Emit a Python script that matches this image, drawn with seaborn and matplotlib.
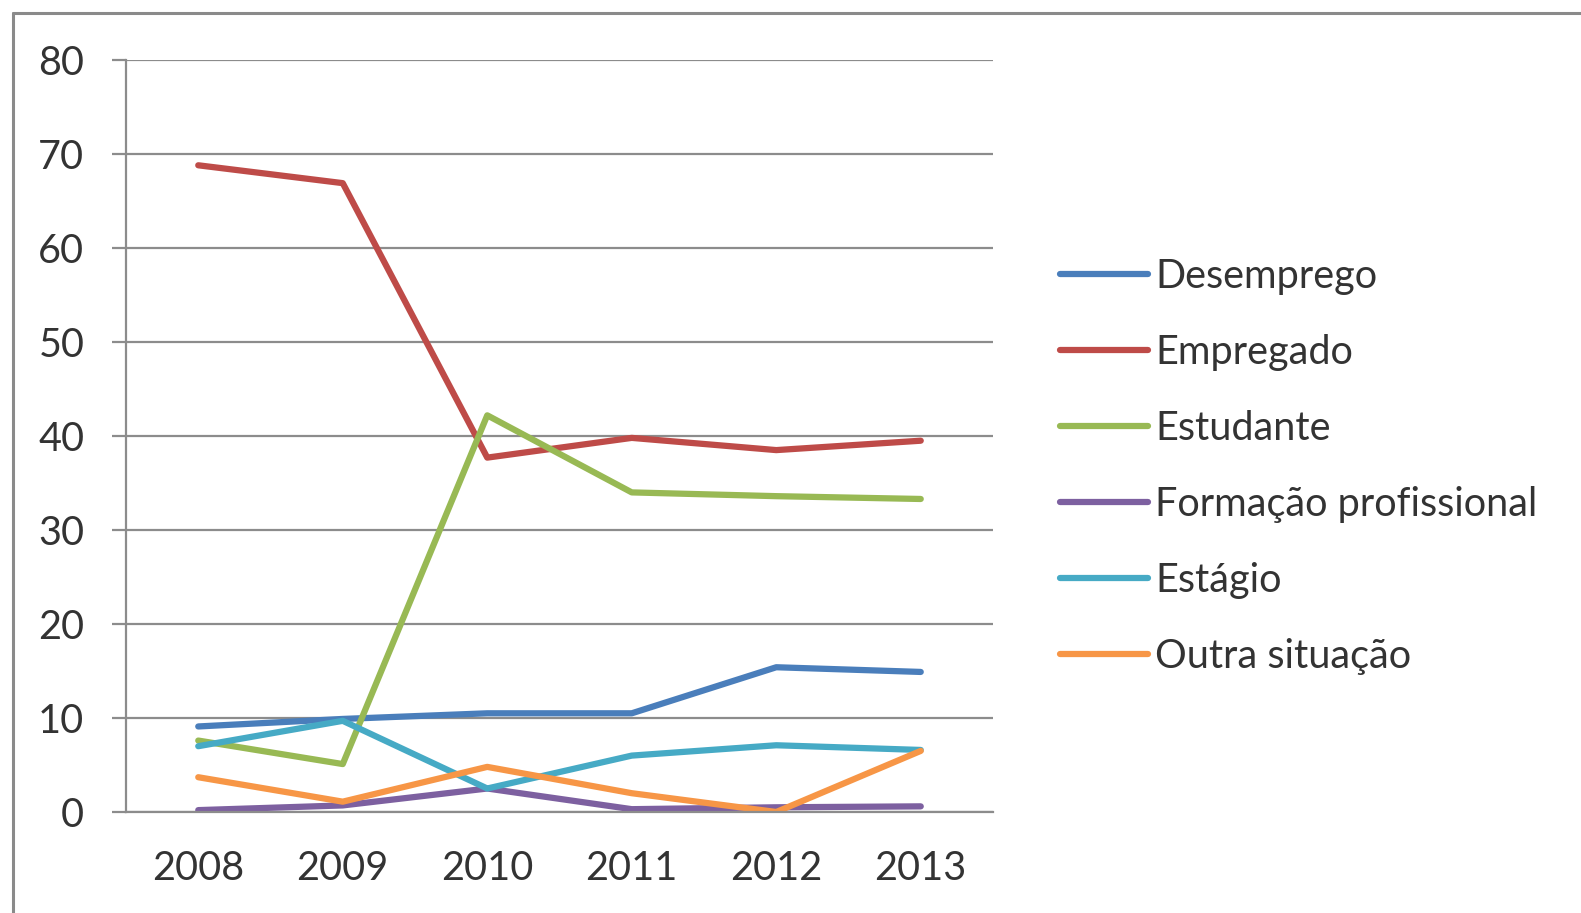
import pandas as pd
import numpy as np
import matplotlib
matplotlib.use("Agg")
import matplotlib.pyplot as plt
import seaborn as sns
from matplotlib.lines import Line2D
from matplotlib.ticker import FixedLocator, NullFormatter

# data
years = ["2008", "2009", "2010", "2011", "2012", "2013"]
desemprego = [9.1, 9.9, 10.5, 10.5, 15.4, 14.9]
empregado = [68.8, 66.9, 37.7, 39.8, 38.5, 39.5]
estudante = [7.6, 5.1, 42.2, 34.0, 33.6, 33.3]
formacao = [0.2, 0.7, 2.5, 0.3, 0.5, 0.6]
estagio = [7.0, 9.7, 2.5, 6.0, 7.1, 6.6]
outra = [3.7, 1.1, 4.8, 2.0, 0.0, 6.5]

series_names = ["Desemprego", "Empregado", "Estudante",
                "Formação profissional", "Estágio", "Outra situação"]
series_values = [desemprego, empregado, estudante, formacao, estagio, outra]
colors = ["#4A7EBB", "#BE4B48", "#98B954", "#7D60A0", "#46AAC5", "#F79646"]

rows = []
for name, vals in zip(series_names, series_values):
    for y, v in zip(years, vals):
        rows.append({"Ano": y, "Valor": v, "Situação": name})
df = pd.DataFrame(rows)

sns.set_style("white")
plt.rcParams["font.family"] = ["Lato", "DejaVu Sans"]
text_color = "#333333"
grid_color = "#8c8c8c"
font_size = 28.5
line_w = 4.5

fig = plt.figure(figsize=(15.81, 9.13), dpi=100)
ax = fig.add_axes([126 / 1581, 1 - 812 / 913, (993 - 126) / 1581, (812 - 60) / 913])

sns.lineplot(data=df, x="Ano", y="Valor", hue="Situação", hue_order=series_names,
             palette=colors, linewidth=line_w, sort=False, ax=ax)

ax.set_xlim(-0.5, 5.5)
ax.set_ylim(0, 80)
ax.set_yticks(range(0, 81, 10))
ax.yaxis.grid(True, color=grid_color, linewidth=1.6)
ax.set_axisbelow(True)

# category axis: tick marks between categories, labels at centres
ax.xaxis.set_major_locator(FixedLocator(np.arange(-0.5, 6.0, 1.0)))
ax.xaxis.set_major_formatter(NullFormatter())
ax.xaxis.set_minor_locator(FixedLocator(range(len(years))))
ax.set_xticklabels(years, minor=True)
ax.tick_params(axis="x", which="major", length=10, width=1.6, color=grid_color, direction="out")
ax.tick_params(axis="x", which="minor", length=0, pad=27, labelsize=font_size, labelcolor=text_color)
ax.tick_params(axis="y", length=10, width=1.6, color=grid_color, pad=20,
               labelsize=font_size, labelcolor=text_color, left=True)

ax.set_xlabel("")
ax.set_ylabel("")
for side in ["top", "right"]:
    ax.spines[side].set_visible(False)
for side in ["left", "bottom"]:
    ax.spines[side].set_color(grid_color)
    ax.spines[side].set_linewidth(1.6)

ax.legend(loc="upper left", bbox_to_anchor=(1060 / 1581, 1 - 258 / 913),
          bbox_transform=fig.transFigure, frameon=False, fontsize=font_size,
          handlelength=2.22, handletextpad=0.18, labelspacing=0.985,
          labelcolor=text_color, borderaxespad=0, borderpad=0)
for h in ax.get_legend().legend_handles:
    h.set_linewidth(line_w)

# outer chart frame (left and top edges visible)
fig.add_artist(Line2D([12.5 / 1581, 12.5 / 1581], [0, 1 - 13 / 913],
                      transform=fig.transFigure, color="#8a8a8a", linewidth=2.2))
fig.add_artist(Line2D([12.5 / 1581, 1], [1 - 13 / 913, 1 - 13 / 913],
                      transform=fig.transFigure, color="#8a8a8a", linewidth=2.2))

fig.savefig("out.png", dpi=100, facecolor="white")
